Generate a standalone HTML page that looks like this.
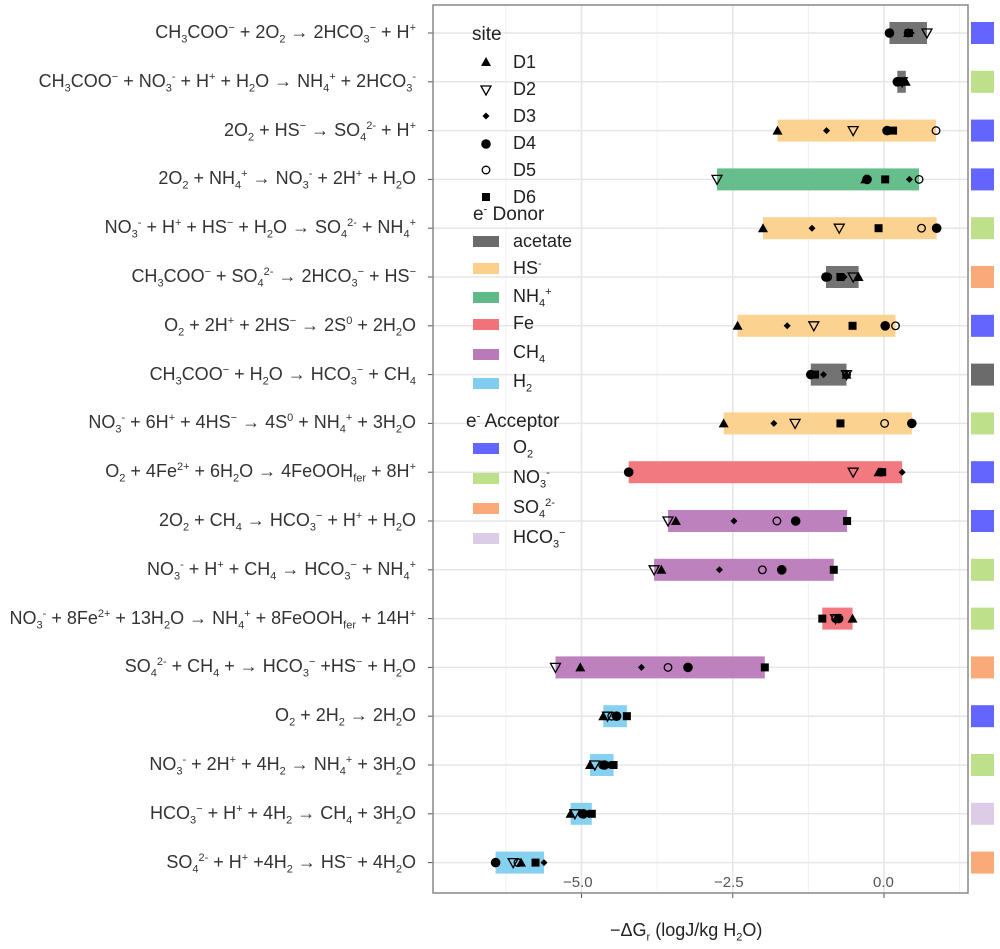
<!DOCTYPE html>
<html><head><meta charset="utf-8"><style>
body{margin:0;background:#fff;width:1000px;height:949px;overflow:hidden;position:relative;font-family:"Liberation Sans",sans-serif;}
sub,sup{line-height:0;}
.lab{position:absolute;right:584px;font-size:18px;color:#333;white-space:nowrap;line-height:22px;}
.lab sub,.lab sup{font-size:11px;}
.lg sub,.lg sup,.ax sub{font-size:11px;}
.lg{position:absolute;font-size:18px;color:#222;white-space:nowrap;line-height:20px;}
.ax{position:absolute;font-size:15px;color:#555;}
</style></head><body>
<svg id="plot" width="1000" height="949" style="position:absolute;left:0;top:0"></svg>
<div id="labels"></div>
<div class="ax" style="left:563px;top:874px">−5.0</div>
<div class="ax" style="left:714px;top:874px">−2.5</div>
<div class="ax" style="left:873px;top:874px">0.0</div>
<div class="lg" style="left:610px;top:920px;font-size:18px">−ΔG<sub>r</sub> (logJ/kg H<sub>2</sub>O)</div>

<div class="lg" style="left:472px;top:25px;font-size:19px">site</div>
<div class="lg" style="left:513px;top:52px">D1</div>
<div class="lg" style="left:513px;top:79px">D2</div>
<div class="lg" style="left:513px;top:106px">D3</div>
<div class="lg" style="left:513px;top:133px">D4</div>
<div class="lg" style="left:513px;top:160px">D5</div>
<div class="lg" style="left:513px;top:187px">D6</div>
<div class="lg" style="left:473px;top:205px;font-size:19px">e<sup>-</sup> Donor</div>
<div class="lg" style="left:513px;top:231px">acetate</div>
<div class="lg" style="left:513px;top:258px">HS<sup>-</sup></div>
<div class="lg" style="left:513px;top:286px">NH<sub>4</sub><sup>+</sup></div>
<div class="lg" style="left:513px;top:313px">Fe</div>
<div class="lg" style="left:513px;top:342px">CH<sub>4</sub></div>
<div class="lg" style="left:513px;top:371px">H<sub>2</sub></div>
<div class="lg" style="left:466px;top:412px;font-size:19px">e<sup>-</sup> Acceptor</div>
<div class="lg" style="left:513px;top:437px">O<sub>2</sub></div>
<div class="lg" style="left:513px;top:467px">NO<sub>3</sub><sup>-</sup></div>
<div class="lg" style="left:513px;top:497px">SO<sub>4</sub><sup>2-</sup></div>
<div class="lg" style="left:513px;top:527px">HCO<sub>3</sub><sup>−</sup></div>

<script>
const reactions = [
"CH<sub>3</sub>COO<sup>−</sup> + 2O<sub>2</sub> → 2HCO<sub>3</sub><sup>−</sup> + H<sup>+</sup>",
"CH<sub>3</sub>COO<sup>−</sup> + NO<sub>3</sub><sup>-</sup> + H<sup>+</sup> + H<sub>2</sub>O → NH<sub>4</sub><sup>+</sup> + 2HCO<sub>3</sub><sup>-</sup>",
"2O<sub>2</sub> + HS<sup>−</sup> → SO<sub>4</sub><sup>2-</sup> + H<sup>+</sup>",
"2O<sub>2</sub> +  NH<sub>4</sub><sup>+</sup> → NO<sub>3</sub><sup>-</sup> +  2H<sup>+</sup> + H<sub>2</sub>O",
"NO<sub>3</sub><sup>-</sup> + H<sup>+</sup> +  HS<sup>−</sup> + H<sub>2</sub>O → SO<sub>4</sub><sup>2-</sup> +  NH<sub>4</sub><sup>+</sup>",
"CH<sub>3</sub>COO<sup>−</sup> + SO<sub>4</sub><sup>2-</sup> → 2HCO<sub>3</sub><sup>−</sup> + HS<sup>−</sup>",
"O<sub>2</sub> + 2H<sup>+</sup> + 2HS<sup>−</sup> → 2S<sup>0</sup> + 2H<sub>2</sub>O",
"CH<sub>3</sub>COO<sup>−</sup> + H<sub>2</sub>O → HCO<sub>3</sub><sup>−</sup> + CH<sub>4</sub>",
"NO<sub>3</sub><sup>-</sup> + 6H<sup>+</sup> + 4HS<sup>−</sup> → 4S<sup>0</sup> +  NH<sub>4</sub><sup>+</sup> + 3H<sub>2</sub>O",
"O<sub>2</sub> + 4Fe<sup>2+</sup> + 6H<sub>2</sub>O → 4FeOOH<sub>fer</sub> + 8H<sup>+</sup>",
"2O<sub>2</sub> + CH<sub>4</sub> → HCO<sub>3</sub><sup>−</sup> + H<sup>+</sup> + H<sub>2</sub>O",
"NO<sub>3</sub><sup>-</sup> + H<sup>+</sup> + CH<sub>4</sub> → HCO<sub>3</sub><sup>−</sup> + NH<sub>4</sub><sup>+</sup>",
"NO<sub>3</sub><sup>-</sup> +  8Fe<sup>2+</sup> + 13H<sub>2</sub>O → NH<sub>4</sub><sup>+</sup> +  8FeOOH<sub>fer</sub> + 14H<sup>+</sup>",
"SO<sub>4</sub><sup>2-</sup> + CH<sub>4</sub> + → HCO<sub>3</sub><sup>−</sup> +HS<sup>−</sup> + H<sub>2</sub>O",
"O<sub>2</sub> + 2H<sub>2</sub> → 2H<sub>2</sub>O",
"NO<sub>3</sub><sup>-</sup> + 2H<sup>+</sup> + 4H<sub>2</sub> → NH<sub>4</sub><sup>+</sup> + 3H<sub>2</sub>O",
"HCO<sub>3</sub><sup>−</sup> + H<sup>+</sup> + 4H<sub>2</sub> → CH<sub>4</sub> + 3H<sub>2</sub>O",
"SO<sub>4</sub><sup>2-</sup> + H<sup>+</sup> +4H<sub>2</sub> → HS<sup>−</sup> + 4H<sub>2</sub>O"];
const donors = ["acetate","acetate","HS","NH4","HS","acetate","HS","acetate","HS","Fe","CH4","CH4","Fe","CH4","H2","H2","H2","H2"];
const acceptors = ["O2","NO3","O2","O2","NO3","SO4","O2","CH4","NO3","O2","O2","NO3","NO3","SO4","O2","NO3","HCO3","SO4"];
const D1 = [0.4,0.36,-1.76,-0.31,-2.0,-0.42,-2.42,-0.62,-2.65,-0.09,-3.44,-3.68,-0.52,-5.02,-4.64,-4.86,-5.18,-6.0];
const D2 = [0.71,0.3,-0.51,-2.76,-0.74,-0.51,-1.16,-0.62,-1.47,-0.51,-3.57,-3.8,-0.8,-5.43,-4.57,-4.78,-5.11,-6.13];
const D3 = [0.45,0.27,-0.95,0.42,-1.19,-0.66,-1.6,-1.0,-1.82,0.3,-2.48,-2.72,-0.78,-4.01,-4.45,-4.55,-4.9,-5.62];
const D4 = [0.09,0.22,0.05,-0.28,0.87,-0.96,0.02,-1.21,0.46,-4.22,-1.46,-1.69,-0.75,-3.24,-4.42,-4.62,-4.97,-6.42];
const D5 = [0.4,0.25,0.86,0.58,0.62,-0.93,0.19,-0.62,0.01,-0.05,-1.77,-2.01,-0.8,-3.57,-4.5,-4.65,-4.99,-6.05];
const D6 = [0.41,0.28,0.15,0.02,-0.09,-0.72,-0.52,-1.14,-0.72,-0.03,-0.61,-0.83,-1.02,-1.97,-4.25,-4.47,-4.83,-5.76];
const xTicks = [-5,-2.5,0];
const xMinor = [-6.25,-3.75,-1.25,1.25];

const donorCol = {acetate:"#6b6b6b",HS:"#fcd08b",NH4:"#5fba87",Fe:"#f2727a",CH4:"#b97ab9",H2:"#80cdef"};
const accCol = {O2:"#6464ff",NO3:"#bfe08b",SO4:"#f9aa78",HCO3:"#dccce6",CH4:"#6b6b6b"};
const X = v => 884 + v*60.5;
const Y = i => 33 + i*48.8;
const NS="http://www.w3.org/2000/svg";
const svg=document.getElementById('plot');
function mk(tag,attrs,parent){const e=document.createElementNS(NS,tag);for(const k in attrs)e.setAttribute(k,attrs[k]);(parent||svg).appendChild(e);return e;}
mk('rect',{x:433,y:5,width:535,height:888,fill:'#fff'});
xMinor.forEach(v=>{const l=mk('line',{x1:X(v),x2:X(v),y1:5,y2:893,stroke:'#f0f0f0','stroke-width':1});

});
xTicks.forEach(v=>{const l=mk('line',{x1:X(v),x2:X(v),y1:5,y2:893,stroke:'#e6e6e6','stroke-width':1.5});


mk('line',{x1:X(v),x2:X(v),y1:893,y2:898,stroke:'#555'});});
reactions.forEach((r,i)=>{const l=mk('line',{x1:433,x2:968,y1:Y(i),y2:Y(i),stroke:'#e6e6e6','stroke-width':1.5});


mk('line',{x1:428,x2:433,y1:Y(i),y2:Y(i),stroke:'#555'});});
const sites=[D1,D2,D3,D4,D5,D6];
reactions.forEach((r,i)=>{
 const vals=sites.map(s=>s[i]);const mn=Math.min(...vals),mx=Math.max(...vals);
 const b=mk('rect',{x:X(mn),y:Y(i)-11,width:Math.max(X(mx)-X(mn),8),height:22,fill:donorCol[donors[i]],opacity:0.95});
 
 
 const s=mk('rect',{x:971,y:Y(i)-11,width:23,height:22,fill:accCol[acceptors[i]]});
 
 
});
function marker(k,cx,cy,parent){
 if(k===0) return mk('polygon',{points:`${cx-5},${cy+4} ${cx+5},${cy+4} ${cx},${cy-5}`,fill:'#000'},parent);
 if(k===1) return mk('polygon',{points:`${cx-5},${cy-4} ${cx+5},${cy-4} ${cx},${cy+5}`,fill:'none',stroke:'#000','stroke-width':1.3},parent);
 if(k===2) return mk('polygon',{points:`${cx-3.5},${cy} ${cx},${cy-3.5} ${cx+3.5},${cy} ${cx},${cy+3.5}`,fill:'#000'},parent);
 if(k===3) return mk('circle',{cx:cx,cy:cy,r:4.8,fill:'#000'},parent);
 if(k===4) return mk('circle',{cx:cx,cy:cy,r:3.8,fill:'none',stroke:'#000','stroke-width':1.3},parent);
 return mk('rect',{x:cx-4,y:cy-4,width:8,height:8,fill:'#000'},parent);
}
sites.forEach((s,k)=>s.forEach((v,i)=>{const m=marker(k,X(v),Y(i));
 
 }));
mk('rect',{x:433,y:5,width:535,height:888,fill:'none',stroke:'#888','stroke-width':1.5});
[62,90,116,144,170,197].forEach((y,k)=>{const m=marker(k,486,y);
 
 });
const legD=["acetate","HS","NH4","Fe","CH4","H2"],legDy=[241,268,297,324,354,383];
legD.forEach((d,i)=>{const r=mk('rect',{x:473,y:legDy[i]-5,width:26,height:11,fill:donorCol[d]});
 
 });
const legA=["O2","NO3","SO4","HCO3"],legAy=[448,478,508,538];
legA.forEach((a,i)=>{const r=mk('rect',{x:473,y:legAy[i]-5,width:26,height:11,fill:accCol[a]});
 
 });
const lw=document.getElementById('labels');
reactions.forEach((r,i)=>{const d=document.createElement('div');d.className='lab';d.innerHTML=r;d.style.top=(Y(i)-12)+'px';
 
 
 lw.appendChild(d);});
</script>
</body></html>
